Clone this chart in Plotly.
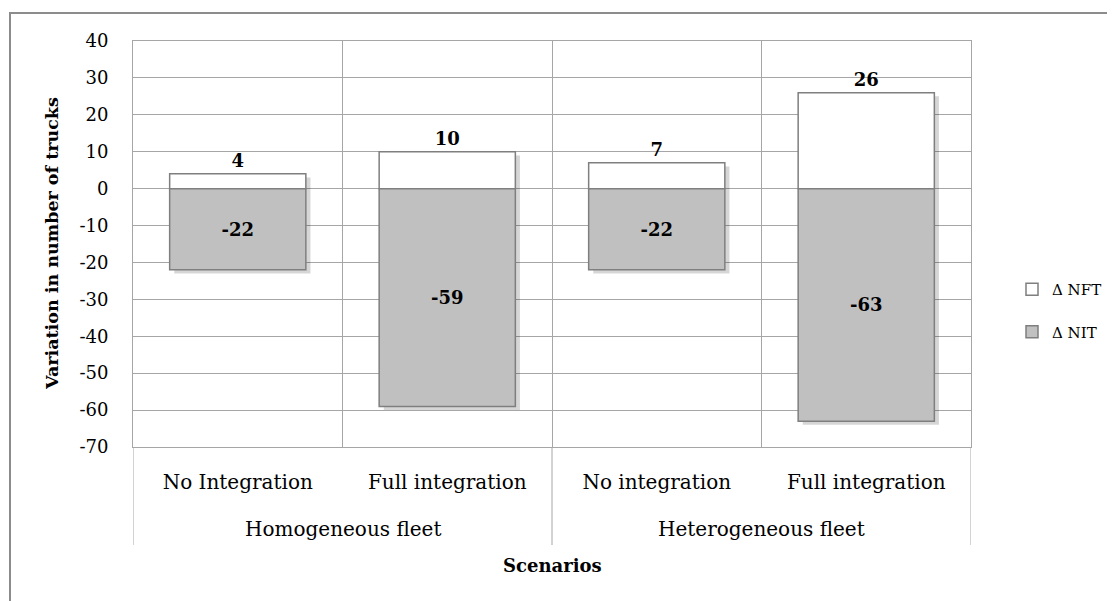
import plotly.graph_objects as go

# ---- data ----
fleets = ["Homogeneous fleet", "Homogeneous fleet", "Heterogeneous fleet", "Heterogeneous fleet"]
scenarios = ["No Integration", "Full integration", "No integration", "Full integration"]
delta_nft = [4, 10, 7, 26]
delta_nit = [-22, -59, -22, -63]
y_ticks = [40, 30, 20, 10, 0, -10, -20, -30, -40, -50, -60, -70]

FONT = "DejaVu Serif"
GRID = "#a6a6a6"
EDGE = "#7f7f7f"
BAR_W = 0.65
pos = list(range(len(scenarios)))
PLOT_W = 838  # plot-area width in px
PLOT_H = 406  # plot-area height in px (for converting px offsets to paper units)

fig = go.Figure()

# soft drop shadow (derived from data)
fig.add_trace(go.Bar(
    x=pos, y=[t - b for t, b in zip(delta_nft, delta_nit)],
    base=[b - 1.0 for b in delta_nit],
    width=BAR_W, offset=-BAR_W / 2 + 0.022,
    marker=dict(color="rgba(0,0,0,0.16)", line=dict(width=0)),
    showlegend=False, hoverinfo="skip"))

fig.add_trace(go.Bar(
    name="Δ NFT", x=pos, y=delta_nft, base=[0] * 4,
    width=BAR_W, offset=-BAR_W / 2,
    marker=dict(color="white", line=dict(color=EDGE, width=1.5)),
    text=[str(v) for v in delta_nft], textposition="outside", textangle=0,
    textfont=dict(family=FONT, size=18, color="black", weight="bold"),
    cliponaxis=False, legendgroup="a"))

fig.add_trace(go.Bar(
    name="Δ NIT", x=pos, y=delta_nit, base=[0] * 4,
    width=BAR_W, offset=-BAR_W / 2,
    marker=dict(color="#c0c0c0", line=dict(color=EDGE, width=1.5)),
    text=[str(v) for v in delta_nit], textposition="inside",
    insidetextanchor="middle", textangle=0,
    textfont=dict(family=FONT, size=18, color="black", weight="bold"),
    legendgroup="b"))

fig.update_layout(
    width=1115, height=601,
    margin=dict(l=125, r=1115 - 125 - PLOT_W, t=33, b=601 - 33 - PLOT_H, autoexpand=False),
    paper_bgcolor="white", plot_bgcolor="white",
    barmode="overlay",
    font=dict(family=FONT, size=18, color="black"),
    legend=dict(x=(1012 - 133) / PLOT_W, y=(447 - 310.5) / PLOT_H, xanchor="left", yanchor="middle",
                traceorder="grouped", tracegroupgap=20,
                itemwidth=30, font=dict(size=15, family=FONT)),
    showlegend=True,
)

bounds = [p - 0.5 for p in pos] + [pos[-1] + 0.5]
fig.update_xaxes(
    range=[-0.5, len(pos) - 0.5], automargin=False,
    tickmode="array", tickvals=pos, ticktext=scenarios,
    showgrid=False, zeroline=False,
    minor=dict(tickmode="array", tickvals=bounds, showgrid=True, gridcolor=GRID, gridwidth=1, ticks=""),
    showline=True, linecolor=GRID, linewidth=1, mirror=True,
    tickfont=dict(family=FONT, size=20),
    ticks="", ticklabelstandoff=17,
)

fig.update_yaxes(
    range=[-70, 40], automargin=False,
    tickvals=y_ticks, ticktext=[str(v) for v in y_ticks],
    showgrid=True, gridcolor=GRID, gridwidth=1,
    zeroline=False,
    showline=True, linecolor=GRID, linewidth=1, mirror=True,
    tickfont=dict(family=FONT, size=18),
    ticks="", ticklabelstandoff=20,
)

# group labels and group dividers
groups = []
for i, g in enumerate(fleets):
    if not groups or groups[-1][0] != g:
        groups.append([g, i, i])
    else:
        groups[-1][2] = i
div_bottom = -(545 - 447) / PLOT_H
for g, i0, i1 in groups:
    fig.add_annotation(x=(i0 + i1) / 2, y=-(529 - 447) / PLOT_H, xref="x", yref="paper",
                       text=g, showarrow=False, yanchor="middle",
                       font=dict(family=FONT, size=20, color="black"))
div_x = sorted(set([i0 - 0.5 for _, i0, _ in groups] + [i1 + 0.5 for _, _, i1 in groups]))
for dx in div_x:
    fig.add_shape(type="line", xref="x", yref="paper", x0=dx, x1=dx, y0=0, y1=div_bottom,
                  line=dict(color=GRID, width=1))

# axis titles
fig.add_annotation(x=0.5, y=-(565 - 447) / PLOT_H, xref="paper", yref="paper",
                   text="<b>Scenarios</b>", showarrow=False, yanchor="middle",
                   font=dict(family=FONT, size=18, color="black"))
fig.add_annotation(x=(52 - 133) / PLOT_W, y=0.5, xref="paper", yref="paper",
                   text="<b>Variation in number of trucks</b>", showarrow=False, textangle=-90,
                   xanchor="center", yanchor="middle",
                   font=dict(family=FONT, size=17.5, color="black"))

# outer chart-area border
fig.add_shape(type="rect", xref="paper", yref="paper",
              x0=(10 - 133) / PLOT_W, x1=(1130 - 133) / PLOT_W,
              y0=-(620 - 447) / PLOT_H, y1=1 + (41 - 13) / PLOT_H,
              line=dict(color="#8c8c8c", width=2), fillcolor="rgba(0,0,0,0)", layer="below")

fig.write_html("out.html")
